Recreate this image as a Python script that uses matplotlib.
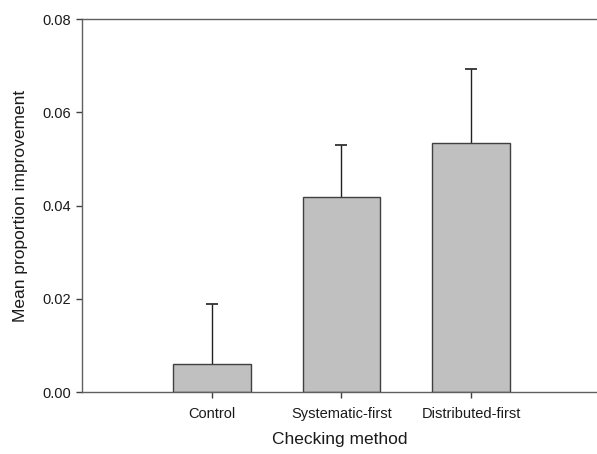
import matplotlib
matplotlib.use("Agg")
import matplotlib.pyplot as plt

plt.rcParams['font.family'] = ['Liberation Sans', 'DejaVu Sans']

categories = ["Control", "Systematic-first", "Distributed-first"]
means = [0.0060, 0.0419, 0.0533]
errors = [0.0129, 0.0110, 0.0160]
yticks = [0.00, 0.02, 0.04, 0.06, 0.08]
ytick_labels = ["0.00", "0.02", "0.04", "0.06", "0.08"]

fig = plt.figure(figsize=(5.97, 4.54), dpi=100)
ax = fig.add_axes([82/597, 1-392/454, 1-82/597, (392-19)/454])

x = list(range(len(categories)))
ax.bar(x, means, width=0.6, color='#c0c0c0', edgecolor='#404040', linewidth=1.0, zorder=2)
eb = ax.errorbar(x, means, yerr=[[0]*len(errors), errors], fmt='none', ecolor='#202020',
                 elinewidth=1.0, capsize=4.5, capthick=1.2, zorder=1)
caplines = eb.lines[1]
if len(caplines) == 2:
    caplines[0].set_visible(False)

ax.set_xlim(-1.0, 2.97)
ax.set_ylim(0, 0.08)
ax.set_yticks(yticks)
ax.set_yticklabels(ytick_labels)
ax.set_xticks(x)
ax.set_xticklabels(categories)

for s in ['left', 'bottom', 'top']:
    ax.spines[s].set_color('#606060')
    ax.spines[s].set_linewidth(1.0)
ax.spines['right'].set_visible(False)
ax.tick_params(axis='both', direction='out', length=4, width=1.0, color='#404040',
               labelsize=10.5, labelcolor='#1a1a1a', pad=4)
ax.tick_params(axis='x', pad=7)

ax.set_xlabel("Checking method", fontsize=12.5, color='#1a1a1a', labelpad=8)
ax.set_ylabel("Mean proportion improvement", fontsize=12.5, color='#1a1a1a', labelpad=10)

fig.savefig("out.png", dpi=100)
